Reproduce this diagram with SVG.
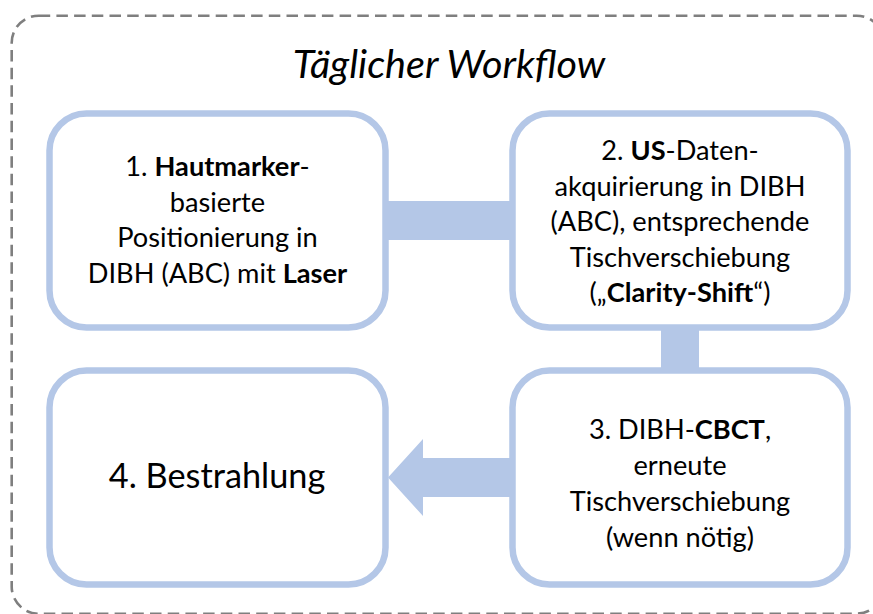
<svg xmlns="http://www.w3.org/2000/svg" width="873" height="614" viewBox="0 0 873 614">
<style>
.box{fill:#FFFFFF;stroke:#B4C7E7;stroke-width:6.5}
.con{fill:#B4C7E7;stroke:none}
.t{font-family:Lato,"Liberation Sans",sans-serif;font-size:27.2px;fill:#000000;text-anchor:middle}
.b{font-weight:bold}
.title{font-family:Lato,"Liberation Sans",sans-serif;font-size:39.5px;font-style:italic;fill:#000000;text-anchor:middle}
.big{font-family:Lato,"Liberation Sans",sans-serif;font-size:34.3px;fill:#000000;text-anchor:middle}
</style>
<rect x="0" y="0" width="873" height="614" fill="#FFFFFF"/>
<g id="frame">
<rect x="11.7" y="15.7" width="872" height="598" rx="27" ry="27" fill="none" stroke="#7F7F7F" stroke-width="2.6" stroke-dasharray="11.5 6.2"/>
<text class="title" x="449" y="78">Täglicher Workflow</text>
</g>
<g id="connectors">
<rect class="con" x="385" y="201" width="128" height="39"/>
<rect class="con" x="661" y="327" width="38" height="44"/>
<polygon class="con" points="512,458 423,458 423,439 388,477.5 423,516 423,497 512,497"/>
</g>
<g id="node1">
<rect class="box" x="49.5" y="113.5" width="336" height="214" rx="37" ry="37"/>
<text class="t" x="217.5" y="176">1. <tspan class="b">Hautmarker</tspan>-</text>
<text class="t" x="217.5" y="211.5">basierte</text>
<text class="t" x="217.5" y="247">Positionierung in</text>
<text class="t" x="217.5" y="283">DIBH (ABC) mit <tspan class="b">Laser</tspan></text>
</g>
<g id="node2">
<rect class="box" x="512.5" y="113.5" width="335" height="214" rx="37" ry="37"/>
<text class="t" x="680" y="160">2. <tspan class="b">US</tspan>-Daten-</text>
<text class="t" x="680" y="195.5">akquirierung in DIBH</text>
<text class="t" x="680" y="231">(ABC), entsprechende</text>
<text class="t" x="680" y="267">Tischverschiebung</text>
<text class="t" x="680" y="302">(„<tspan class="b">Clarity-Shift</tspan>“)</text>
</g>
<g id="node3">
<rect class="box" x="512.5" y="370.5" width="335" height="214" rx="37" ry="37"/>
<text class="t" x="680" y="439">3. DIBH-<tspan class="b">CBCT</tspan>,</text>
<text class="t" x="680" y="475">erneute</text>
<text class="t" x="680" y="511">Tischverschiebung</text>
<text class="t" x="680" y="547">(wenn nötig)</text>
</g>
<g id="node4">
<rect class="box" x="49.5" y="370.5" width="336" height="214" rx="37" ry="37"/>
<text class="big" x="217" y="488">4. Bestrahlung</text>
</g>
</svg>
